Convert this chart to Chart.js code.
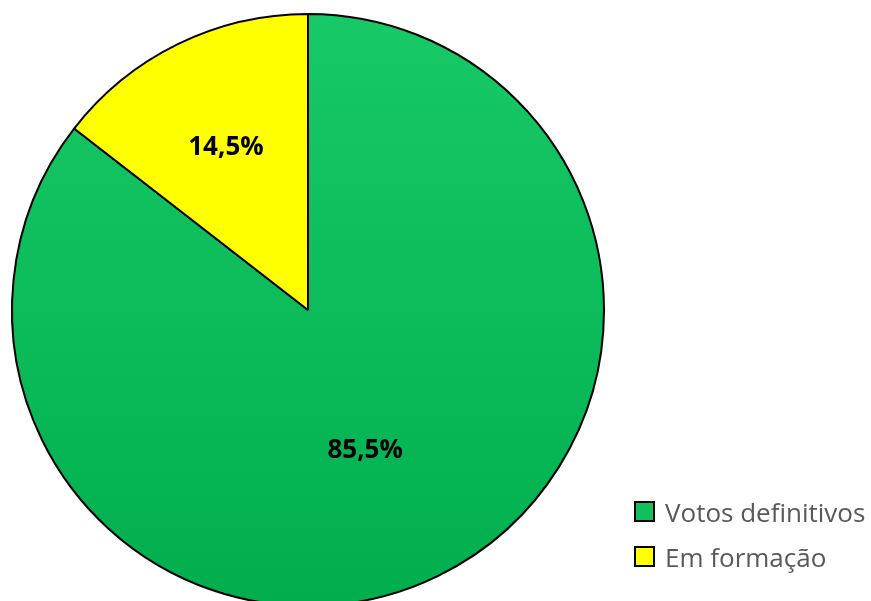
<!DOCTYPE html>
<html>
<head>
<meta charset="utf-8">
<script src="https://cdn.jsdelivr.net/npm/chart.js@4.4.1/dist/chart.umd.min.js"></script>
<style>
    html, body { margin: 0; padding: 0; background: #fff; overflow: hidden; }
    #wrap { position: relative; width: 871px; height: 601px; overflow: hidden; }
    #holder { position: absolute; left: 0; top: 0; width: 871px; height: 620px; }
    #legend { position: absolute; left: 634px; top: 489px; font-family: "Open Sans", sans-serif;
              font-size: 26px; color: #595959; }
    #legend .item { display: flex; align-items: center; height: 45px; }
    #legend .box { width: 17px; height: 17px; border: 2px solid #000; margin-right: 10px; }
</style>
</head>
<body>
<div id="wrap">
    <div id="holder"><canvas id="pie"></canvas></div>
    <div id="legend"></div>
</div>
<script>
// Chart data
const categories = ['Votos definitivos', 'Em formação'];
const shares = [85.5, 14.5];
const shareLabels = ['85,5%', '14,5%'];
const colors = ['#00B050', '#FFFF00'];

// Green slice gets a light-to-dark vertical gradient
function sliceColor(context) {
    const chart = context.chart;
    const area = chart.chartArea;
    if (context.dataIndex !== 0 || !area) return colors[context.dataIndex];
    const g = chart.ctx.createLinearGradient(0, area.top, 0, area.bottom);
    g.addColorStop(0, '#18C967');
    g.addColorStop(1, '#00AE4E');
    return g;
}

// Draw percentage labels inside the slices
const sliceLabels = {
    id: 'sliceLabels',
    afterDatasetsDraw(chart) {
        const ctx = chart.ctx;
        const meta = chart.getDatasetMeta(0);
        const dist = [0.5, 0.63];
        ctx.save();
        ctx.font = 'bold 26px "Open Sans", sans-serif';
        ctx.fillStyle = '#000';
        ctx.textAlign = 'center';
        ctx.textBaseline = 'middle';
        meta.data.forEach((arc, i) => {
            const p = arc.getProps(['x', 'y', 'startAngle', 'endAngle', 'outerRadius'], true);
            const mid = (p.startAngle + p.endAngle) / 2;
            const r = p.outerRadius * dist[i];
            const dx = i === 0 ? -8 : 0;
            const dy = i === 0 ? 8 : 5;
            ctx.fillText(shareLabels[i], p.x + Math.cos(mid) * r + dx, p.y + Math.sin(mid) * r + dy);
        });
        ctx.restore();
    }
};

const chart = new Chart(document.getElementById('pie'), {
    type: 'pie',
    data: {
        labels: categories,
        datasets: [{
            data: shares,
            backgroundColor: sliceColor,
            borderColor: '#000',
            borderWidth: 2
        }]
    },
    options: {
        responsive: true,
        maintainAspectRatio: false,
        animation: false,
        layout: {
            padding: { left: 11, right: 266, top: 13, bottom: 13 }
        },
        plugins: {
            legend: { display: false },
            tooltip: { enabled: false }
        }
    },
    plugins: [sliceLabels]
});

// HTML legend built from the chart data
const legendEl = document.getElementById('legend');
categories.forEach((name, i) => {
    const item = document.createElement('div');
    item.className = 'item';
    const box = document.createElement('span');
    box.className = 'box';
    box.style.background = i === 0 ? '#12BF5E' : colors[i];
    const text = document.createElement('span');
    text.textContent = name;
    item.appendChild(box);
    item.appendChild(text);
    legendEl.appendChild(item);
});
</script>
</body>
</html>
